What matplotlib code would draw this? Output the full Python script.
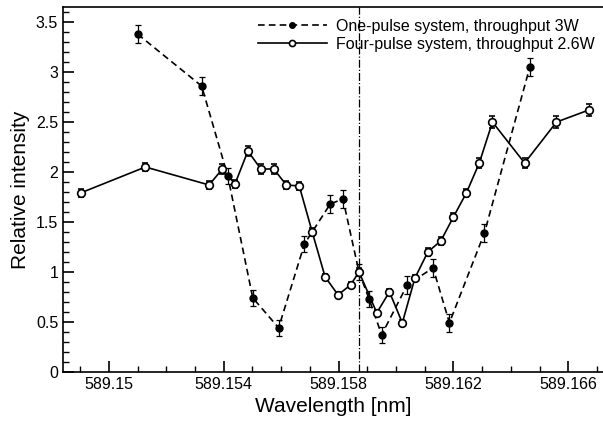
import matplotlib
matplotlib.use('Agg')
import matplotlib.pyplot as plt
from matplotlib.ticker import MultipleLocator, FuncFormatter

plt.rcParams['font.family'] = ['Liberation Sans', 'DejaVu Sans']

# one-pulse system, throughput 3W
one_x = [589.15100, 589.15323, 589.15414, 589.15501, 589.15591, 589.15681, 589.15771,
         589.15815, 589.15871, 589.15906, 589.15950, 589.16039, 589.16129, 589.16186,
         589.16308, 589.16466]
one_y = [3.38, 2.86, 1.96, 0.74, 0.44, 1.28, 1.68, 1.73, 1.00, 0.73, 0.37, 0.87, 1.04,
         0.49, 1.39, 3.05]
one_err = [0.09, 0.09, 0.08, 0.08, 0.08, 0.08, 0.09, 0.09, 0.08, 0.08, 0.08, 0.09, 0.09,
           0.09, 0.09, 0.09]

# four-pulse system, throughput 2.6W
four_x = [589.14901, 589.15127, 589.15349, 589.15395, 589.15439, 589.15484, 589.15529,
          589.15574, 589.15618, 589.15663, 589.15708, 589.15753, 589.15798, 589.15842,
          589.15871, 589.15933, 589.15977, 589.16022, 589.16066, 589.16111, 589.16156,
          589.16200, 589.16245, 589.16290, 589.16336, 589.16448, 589.16559, 589.16671]
four_y = [1.79, 2.05, 1.87, 2.03, 1.88, 2.21, 2.03, 2.03, 1.87, 1.86, 1.40, 0.95, 0.77,
          0.87, 1.00, 0.59, 0.80, 0.49, 0.94, 1.20, 1.31, 1.55, 1.79, 2.09, 2.50, 2.09,
          2.50, 2.62]
four_err = [0.04, 0.04, 0.04, 0.05, 0.04, 0.05, 0.05, 0.05, 0.04, 0.04, 0.04, 0.03, 0.03,
            0.03, 0.04, 0.03, 0.03, 0.03, 0.03, 0.04, 0.04, 0.04, 0.04, 0.05, 0.06, 0.05,
            0.06, 0.06]

line_center = 589.15871

fig = plt.figure(figsize=(6.03, 4.22), dpi=100)
ax = fig.add_axes([0.1045, 0.119, 0.8955, 0.864])

ax.errorbar(one_x, one_y, yerr=one_err, color='black', linestyle=(0, (4, 2.5)), linewidth=1.2,
            marker='o', markersize=5, markerfacecolor='black', markeredgecolor='black',
            capsize=2.5, elinewidth=0.9, capthick=0.9,
            label='One-pulse system, throughput 3W')
ax.errorbar(four_x, four_y, yerr=four_err, color='black', linestyle='-', linewidth=1.2,
            marker='o', markersize=5.5, markerfacecolor='white', markeredgecolor='black',
            markeredgewidth=1.2, capsize=2.5, elinewidth=0.9, capthick=0.9,
            label='Four-pulse system, throughput 2.6W')

ax.axvline(line_center, color='black', linestyle='-.', linewidth=0.9)

ax.set_xlim(589.1484, 589.16721)
ax.set_ylim(0, 3.65)
ax.xaxis.set_major_locator(MultipleLocator(0.004, offset=0.002))
ax.xaxis.set_minor_locator(MultipleLocator(0.001))
ax.yaxis.set_major_locator(MultipleLocator(0.5))
ax.yaxis.set_minor_locator(MultipleLocator(0.1))
ax.xaxis.set_major_formatter(FuncFormatter(lambda v, p: '%g' % round(v, 3)))
ax.yaxis.set_major_formatter(FuncFormatter(lambda v, p: '%g' % v))
ax.tick_params(which='both', direction='in', top=False, right=False, labelsize=11.5)
ax.tick_params(which='major', length=8, width=1.2)
ax.tick_params(which='minor', length=4, width=1)
for s in ax.spines.values():
    s.set_linewidth(1.2)
ax.spines['right'].set_visible(False)

ax.set_xlabel('Wavelength [nm]', fontsize=15)
ax.set_ylabel('Relative intensity', fontsize=15)

# legend without error bars
h, l = ax.get_legend_handles_labels()
h = [hh[0] for hh in h]
ax.legend(h, l, loc='upper right', bbox_to_anchor=(0.997, 0.986), frameon=False,
          fontsize=11.5, handlelength=4.3, borderaxespad=0.0, labelspacing=0.2,
          handletextpad=0.6, markerscale=0.8)

fig.savefig('out.png', dpi=100)
